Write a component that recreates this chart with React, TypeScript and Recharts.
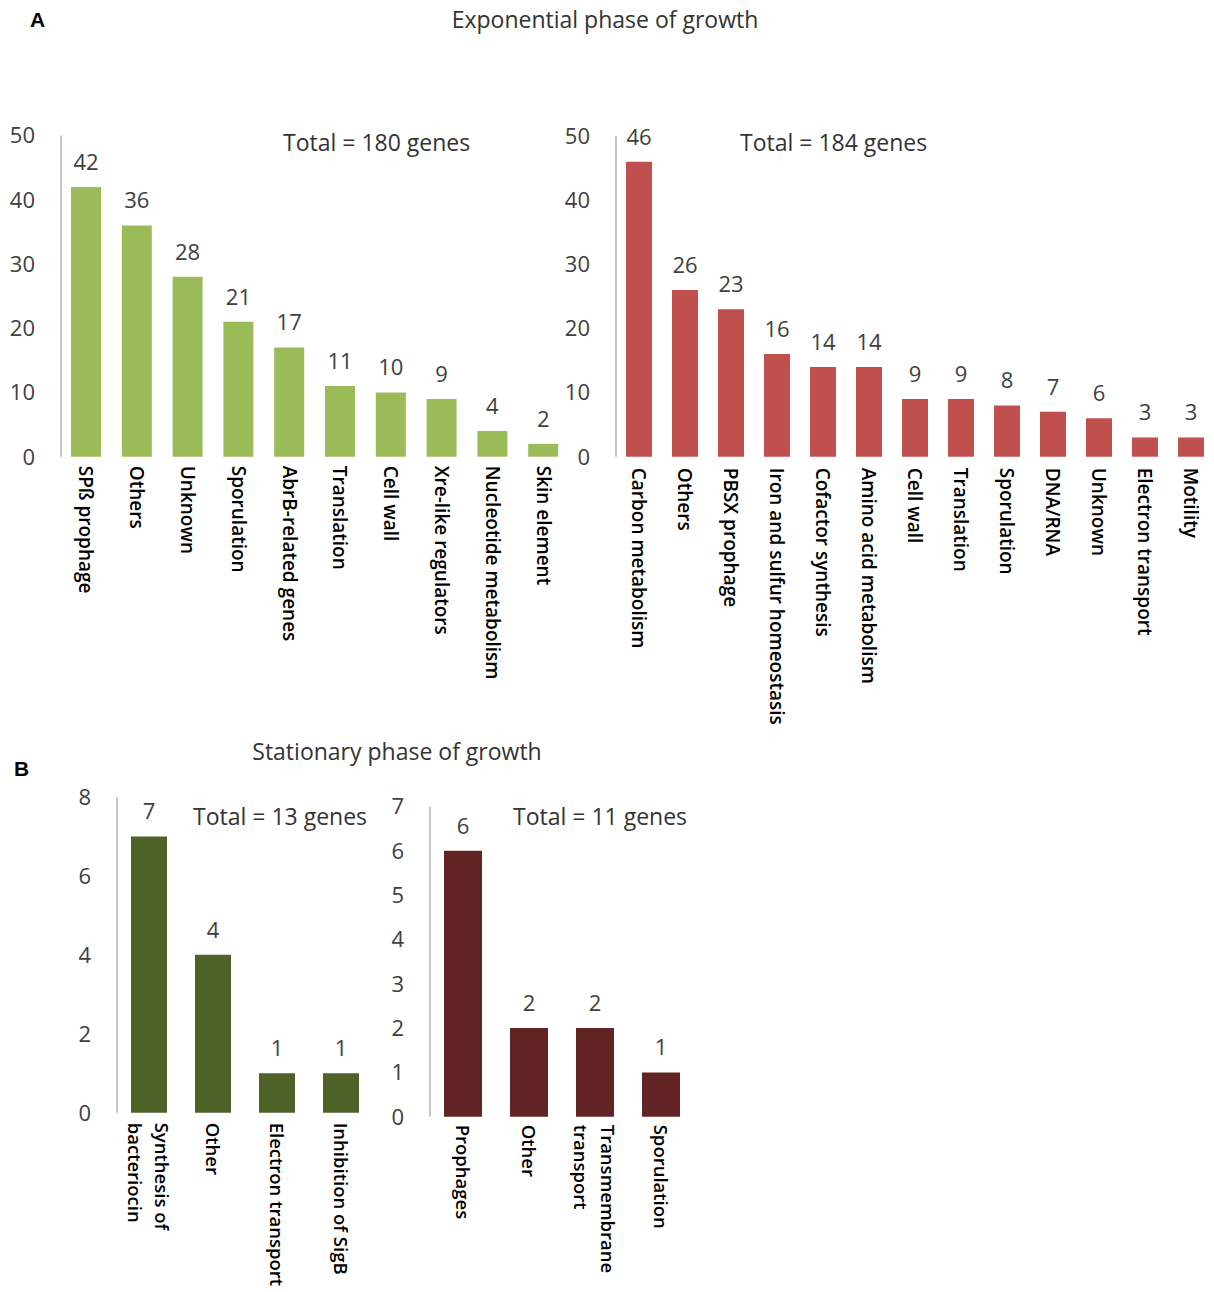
import React from 'react'
import { BarChart, Bar, XAxis, YAxis, LabelList } from 'recharts'

// exponential phase, left panel
const expUpCats: string[] = [
  'SPß prophage', 'Others', 'Unknown', 'Sporulation', 'AbrB-related genes',
  'Translation', 'Cell wall', 'Xre-like regulators', 'Nucleotide metabolism', 'Skin element',
]
const expUpCounts: number[] = [42, 36, 28, 21, 17, 11, 10, 9, 4, 2]

// exponential phase, right panel
const expDownCats: string[] = [
  'Carbon metabolism', 'Others', 'PBSX prophage', 'Iron and sulfur homeostasis',
  'Cofactor synthesis', 'Amino acid metabolism', 'Cell wall', 'Translation',
  'Sporulation', 'DNA/RNA', 'Unknown', 'Electron transport', 'Motility',
]
const expDownCounts: number[] = [46, 26, 23, 16, 14, 14, 9, 9, 8, 7, 6, 3, 3]

// stationary phase
const statUpCats: string[] = ['Synthesis of\nbacteriocin', 'Other', 'Electron transport', 'Inhibition of SigB']
const statUpCounts: number[] = [7, 4, 1, 1]
const statDownCats: string[] = ['Prophages', 'Other', 'Transmembrane\ntransport', 'Sporulation']
const statDownCounts: number[] = [6, 2, 2, 1]

const expTicks: number[] = [0, 10, 20, 30, 40, 50]
const statUpTicks: number[] = [0, 2, 4, 6, 8]
const statDownTicks: number[] = [0, 1, 2, 3, 4, 5, 6, 7]

const FONT = '"Open Sans", sans-serif'

const toRows = (cats: string[], counts: number[]) =>
  cats.map((c, i) => ({ name: c, value: counts[i] }))

const RotatedTick = (props: any) => {
  const { x, y, payload, gap, size } = props
  const lines: string[] = String(payload.value).split('\n')
  const lh = 27
  return (
    <g transform={`translate(${x},${y})`}>
      <text transform="rotate(90)" textAnchor="start" fontSize={size} fontWeight={600} fill="#000" fontFamily={FONT}>
        {lines.map((l, i) => (
          <tspan key={i} x={gap} y={(i - (lines.length - 1) / 2) * lh} dominantBaseline="central">
            {l}
          </tspan>
        ))}
      </text>
    </g>
  )
}

type PanelProps = {
  cats: string[]
  counts: number[]
  ticks: number[]
  color: string
  left: number
  top: number
  width: number
  height: number
  yWidth: number
  marginTop: number
  xHeight: number
  barSize: number
  gap: number
  labelSize: number
}

const Panel = (p: PanelProps) => {
  const data = toRows(p.cats, p.counts)
  return (
    <div style={{ position: 'absolute', left: p.left, top: p.top }}>
      <BarChart width={p.width} height={p.height} data={data}
        margin={{ top: p.marginTop, right: 0, left: 0, bottom: 0 }}>
        <XAxis dataKey="name" interval={0} axisLine={false} tickLine={false} tickSize={0}
          tickMargin={0} height={p.xHeight}
          tick={(tp: any) => <RotatedTick {...tp} gap={p.gap} size={p.labelSize} />} />
        <YAxis domain={[0, p.ticks[p.ticks.length - 1]]} ticks={p.ticks} interval={0}
          width={p.yWidth} tickLine={false} tickSize={0} tickMargin={26}
          axisLine={{ stroke: '#8c8c8c', strokeWidth: 1 }}
          tick={{ fontSize: 22, fill: '#404040', fontFamily: FONT }} />
        <Bar dataKey="value" fill={p.color} barSize={p.barSize} isAnimationActive={false}>
          <LabelList dataKey="value" position="top" offset={17} fontSize={22}
            fill="#404040" fontFamily={FONT} />
        </Bar>
      </BarChart>
    </div>
  )
}

const App = () => {
  return (
    <div style={{ position: 'absolute', left: 0, top: 0, width: 1214, height: 1292, background: '#fff' }}>
      <Panel cats={expUpCats} counts={expUpCounts} ticks={expTicks} color="#9BBB59"
        left={0} top={100} width={569} height={640} yWidth={61} marginTop={35.5}
        xHeight={283.3} barSize={30} gap={9} labelSize={19} />
      <Panel cats={expDownCats} counts={expDownCounts} ticks={expTicks} color="#C0504D"
        left={540} top={100} width={674} height={640} yWidth={76} marginTop={36}
        xHeight={283.3} barSize={26} gap={11} labelSize={19} />
      <Panel cats={statUpCats} counts={statUpCounts} ticks={statUpTicks} color="#4F6228"
        left={50} top={760} width={323} height={532} yWidth={67} marginTop={37}
        xHeight={179.3} barSize={36} gap={10} labelSize={18.5} />
      <Panel cats={statDownCats} counts={statDownCounts} ticks={statDownTicks} color="#632523"
        left={380} top={760} width={314} height={532} yWidth={50} marginTop={46.5}
        xHeight={175.3} barSize={38} gap={8} labelSize={18.5} />

      <svg width={1214} height={1292} style={{ position: 'absolute', left: 0, top: 0, pointerEvents: 'none' }}>
        <text x={30} y={27} fontSize={21} fontWeight="bold" fontFamily='"Liberation Sans", Arial, sans-serif' fill="#000">A</text>
        <text x={605} y={28} fontSize={23} fontFamily={FONT} fill="#333" textAnchor="middle">Exponential phase of growth</text>
        <text x={283} y={151} fontSize={23} fontFamily={FONT} fill="#333">Total = 180 genes</text>
        <text x={740} y={151} fontSize={23} fontFamily={FONT} fill="#333">Total = 184 genes</text>

        <text x={14} y={776} fontSize={21} fontWeight="bold" fontFamily='"Liberation Sans", Arial, sans-serif' fill="#000">B</text>
        <text x={397} y={760} fontSize={23} fontFamily={FONT} fill="#333" textAnchor="middle">Stationary phase of growth</text>
        <text x={193} y={825} fontSize={23} fontFamily={FONT} fill="#333">Total = 13 genes</text>
        <text x={513} y={825} fontSize={23} fontFamily={FONT} fill="#333">Total = 11 genes</text>
      </svg>
    </div>
  )
}

export default App
